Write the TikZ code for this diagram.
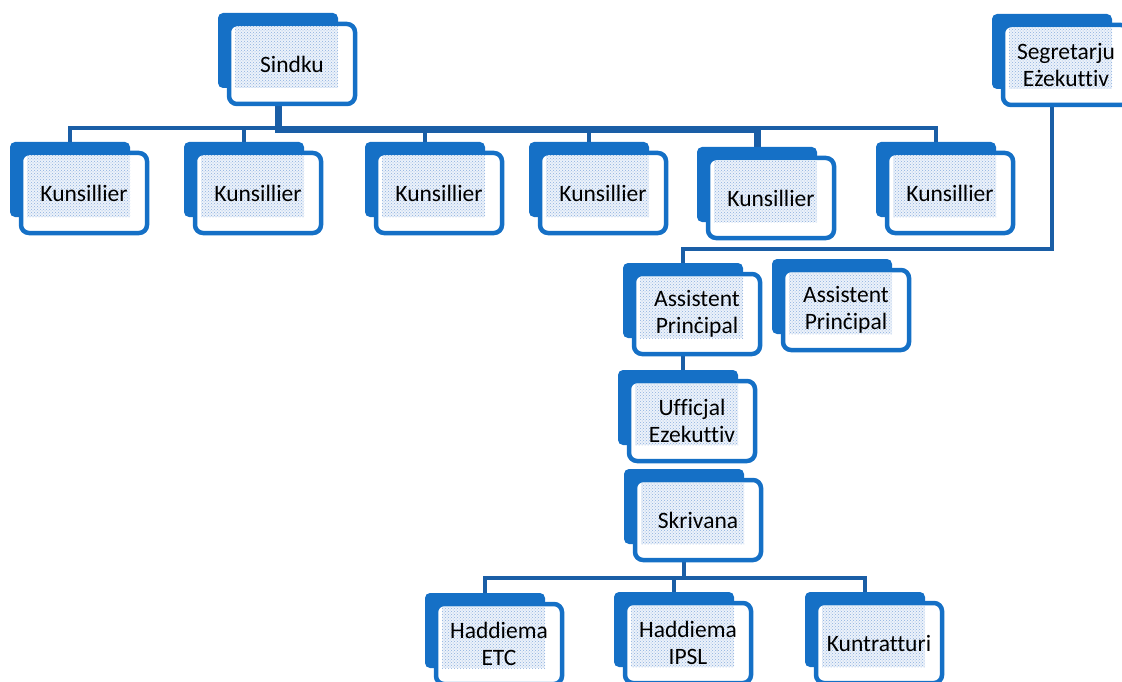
\documentclass[tikz,border=0pt]{standalone}
\usepackage{fontspec}
\setmainfont{Carlito}[Ligatures=NoCommon]
\usetikzlibrary{patterns,backgrounds}
\definecolor{boxblue}{RGB}{21,112,198}
\definecolor{linkblue}{RGB}{26,94,166}
\definecolor{dotblue}{RGB}{140,175,222}
\definecolor{dotbg}{RGB}{236,242,250}
\newcommand{\obox}[4]{%
  \node[backbox] (#1b) at (#2+60,#3+37.5) {};
  \node[frontbox] (#1) at (#2+74,#3+51) {#4};
}
\begin{document}
\begin{tikzpicture}[x=1pt,y=-1pt,
  backbox/.style={fill=boxblue, rounded corners=5pt, minimum width=120pt, minimum height=75pt, inner sep=0pt, draw=none},
  frontbox/.style={draw=boxblue, line width=4.5pt, fill=white, rounded corners=8pt,
    minimum width=126pt, minimum height=80pt, inner sep=0pt, align=center,
    font=\fontsize{23.5}{27}\selectfont,
    path picture={
      \fill[dotbg, sharp corners] ([shift={(-57pt,37pt)}]path picture bounding box.center) rectangle ([shift={(46pt,-24pt)}]path picture bounding box.center);
      \fill[pattern=crosshatch dots, pattern color=dotblue, sharp corners] ([shift={(-57pt,37pt)}]path picture bounding box.center) rectangle ([shift={(46pt,-24pt)}]path picture bounding box.center);
    }},
  conn/.style={draw=linkblue, line width=4.5pt}]
\useasboundingbox (0,0) rectangle (1122,682);

\obox{sindku}{218}{13}{Sindku}
\obox{segr}{992}{14}{Segretarju\\Eżekuttiv}
\obox{ka}{10}{142}{Kunsillier}
\obox{kb}{184}{142}{Kunsillier}
\obox{kc}{365}{142}{Kunsillier}
\obox{kd}{529}{142}{Kunsillier}
\obox{ke}{697}{147}{Kunsillier}
\obox{kf}{876}{142}{Kunsillier}
\obox{apa}{623}{263}{Assistent\\Prinċipal}
\obox{apb}{772}{259}{Assistent\\Prinċipal}
\obox{uff}{618}{370}{Ufficjal\\Ezekuttiv}
\obox{skr}{624}{469}{Skrivana}
\obox{ha}{425}{593}{Haddiema\\ETC}
\obox{hb}{614}{592}{Haddiema\\IPSL}
\obox{kun}{805}{592}{Kuntratturi}

\begin{scope}[on background layer]
\coordinate (bus1) at (500,128);
\coordinate (bus2) at (900,249);
\coordinate (bus3) at (700,578);
\draw[conn] (kab.north) |- (bus1) -| (kfb.north);
\draw[conn] (kbb.north) -- (kbb.north |- bus1);
\draw[conn] (kcb.north) -- (kcb.north |- bus1);
\draw[conn] (kdb.north) -- (kdb.north |- bus1);
\draw[conn, line width=7pt] (sindkub.center |- sindku.south) |- ([yshift=-1.5pt]bus1) -| (keb.north);
\draw[conn] (segrb.center |- segr.south) |- (bus2) -| (apab.north);
\draw[conn] (apab.center |- apa.south) -- (apab.center |- uffb.north);
\draw[conn] (skrb.center |- skr.south) |- (bus3) -| (hab.north);
\draw[conn] (skrb.center |- skr.south) |- (bus3) -| (kunb.north);
\draw[conn] (hbb.north) -- (hbb.north |- bus3);
\end{scope}
\end{tikzpicture}
\end{document}
